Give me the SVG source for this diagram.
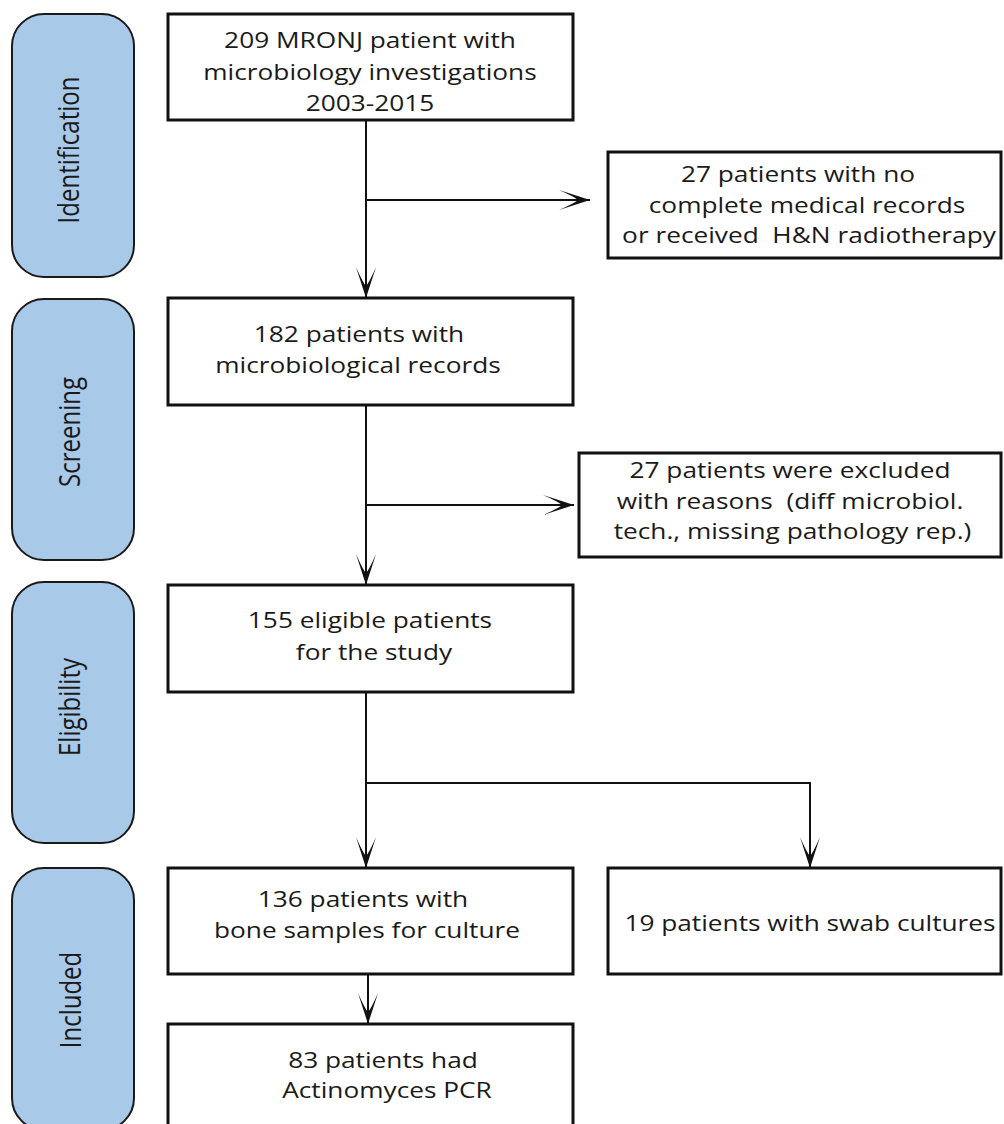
<svg xmlns="http://www.w3.org/2000/svg" width="1004" height="1124" viewBox="0 0 1004 1124">
<style>
.box{fill:#ffffff;stroke:#111111;stroke-width:3}
.pill{fill:#a9c9e9;stroke:#1a1a1a;stroke-width:2}
.t{font-family:"Open Sans","Noto Sans","Liberation Sans",sans-serif;font-size:21px;fill:#1a1a1a;text-anchor:middle;white-space:pre}
.pt{font-family:"Open Sans","Noto Sans","Liberation Sans",sans-serif;font-size:24px;fill:#1a1a1a;text-anchor:middle}
.c{fill:none;stroke:#111111;stroke-width:2}
</style>
<defs>
<marker id="ah" markerUnits="userSpaceOnUse" markerWidth="34" markerHeight="24" viewBox="-32 -12 34 24" refX="0" refY="0" orient="auto">
<path d="M0,0 L-31,-10 Q-15,-3 -12,0 Q-15,3 -31,10 Z" fill="#111111"/>
</marker>
</defs>
<rect width="1004" height="1124" fill="#ffffff"/>

<g id="phase-identification">
<rect class="pill" x="12" y="14" width="122" height="263" rx="32" ry="32"/>
<text class="pt" transform="translate(79,150) scale(1.25,1) rotate(-90)">Identification</text>
</g>
<g id="phase-screening">
<rect class="pill" x="12" y="299" width="122" height="261" rx="32" ry="32"/>
<text class="pt" transform="translate(80,432) scale(1.25,1) rotate(-90)">Screening</text>
</g>
<g id="phase-eligibility">
<rect class="pill" x="12" y="582" width="122" height="261" rx="32" ry="32"/>
<text class="pt" transform="translate(80,707) scale(1.25,1) rotate(-90)">Eligibility</text>
</g>
<g id="phase-included">
<rect class="pill" x="12" y="868" width="122" height="262" rx="32" ry="32"/>
<text class="pt" transform="translate(81,1000) scale(1.25,1) rotate(-90)">Included</text>
</g>

<g id="connectors">
<line class="c" x1="366" y1="120" x2="366" y2="298" marker-end="url(#ah)"/>
<line class="c" x1="366" y1="200" x2="590" y2="200" marker-end="url(#ah)"/>
<line class="c" x1="366" y1="405" x2="366" y2="585" marker-end="url(#ah)"/>
<line class="c" x1="366" y1="505" x2="574" y2="505" marker-end="url(#ah)"/>
<line class="c" x1="366" y1="692" x2="366" y2="868" marker-end="url(#ah)"/>
<polyline class="c" points="366,783 810,783 810,868" marker-end="url(#ah)"/>
<line class="c" x1="368" y1="974" x2="368" y2="1024" marker-end="url(#ah)"/>
</g>

<g id="n209">
<rect class="box" x="168" y="14" width="405" height="106"/>
<text class="t" transform="scale(1.25,1)" x="296" y="48">209 MRONJ patient with</text>
<text class="t" transform="scale(1.25,1)" x="296" y="80">microbiology investigations</text>
<text class="t" transform="scale(1.25,1)" x="296" y="111">2003-2015</text>
</g>
<g id="n27a">
<rect class="box" x="608" y="152" width="393" height="106"/>
<text class="t" transform="scale(1.25,1)" x="638.4" y="182">27 patients with no</text>
<text class="t" transform="scale(1.25,1)" x="645.6" y="213">complete medical records</text>
<text class="t" transform="scale(1.25,1)" x="647.2" y="243">or received  H&amp;N radiotherapy</text>
</g>
<g id="n182">
<rect class="box" x="168" y="298" width="405" height="107"/>
<text class="t" transform="scale(1.25,1)" x="287.2" y="342">182 patients with</text>
<text class="t" transform="scale(1.25,1)" x="286.4" y="373">microbiological records</text>
</g>
<g id="n27b">
<rect class="box" x="579" y="453" width="422" height="104"/>
<text class="t" transform="scale(1.25,1)" x="632" y="478">27 patients were excluded</text>
<text class="t" transform="scale(1.25,1)" x="632" y="509">with reasons  (diff microbiol.</text>
<text class="t" transform="scale(1.25,1)" x="634" y="539">tech., missing pathology rep.)</text>
</g>
<g id="n155">
<rect class="box" x="168" y="585" width="405" height="107"/>
<text class="t" transform="scale(1.25,1)" x="296" y="628">155 eligible patients</text>
<text class="t" transform="scale(1.25,1)" x="299.2" y="660">for the study</text>
</g>
<g id="n136">
<rect class="box" x="168" y="868" width="405" height="106"/>
<text class="t" transform="scale(1.25,1)" x="290.4" y="907">136 patients with</text>
<text class="t" transform="scale(1.25,1)" x="293.6" y="938">bone samples for culture</text>
</g>
<g id="n19">
<rect class="box" x="608" y="868" width="393" height="106"/>
<text class="t" transform="scale(1.25,1)" x="648" y="931">19 patients with swab cultures</text>
</g>
<g id="n83">
<rect class="box" x="168" y="1024" width="405" height="120"/>
<text class="t" transform="scale(1.25,1)" x="306.4" y="1068">83 patients had</text>
<text class="t" transform="scale(1.25,1)" x="309.6" y="1098">Actinomyces PCR</text>
</g>
</svg>
